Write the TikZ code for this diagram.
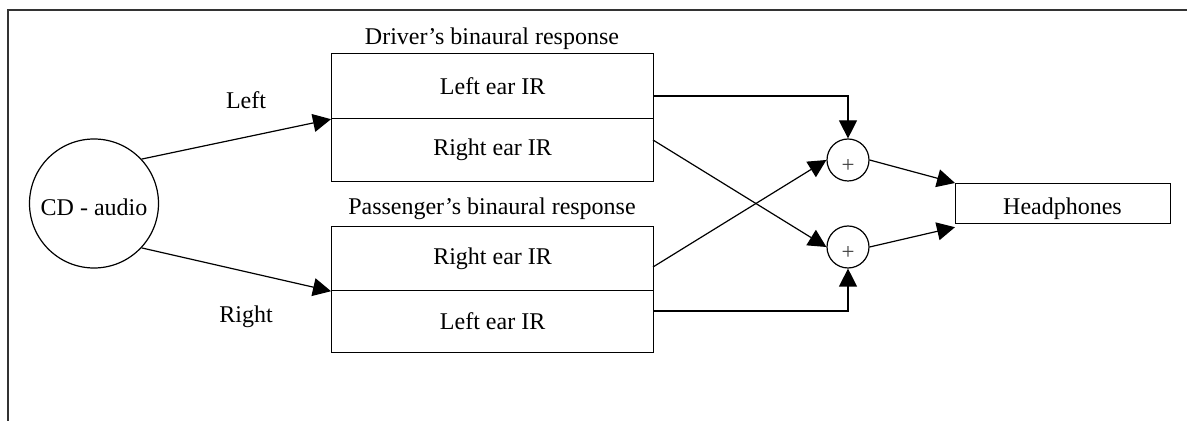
\documentclass[tikz,border=0pt]{standalone}
\usepackage{fontspec}
\setmainfont{Liberation Serif}
\usetikzlibrary{arrows.meta,positioning,calc}
\tikzset{
  cell/.style={draw, line width=0.6pt, rectangle, minimum width=161pt, anchor=north west, inner sep=0pt},
  sumnode/.style={draw, line width=0.6pt, circle, minimum size=21pt, inner sep=0pt},
  lbl/.style={inner sep=0pt, anchor=base},
  plus/.style={inner sep=0pt, anchor=base, font=\fontsize{11.5}{13}\selectfont, text=black!75},
  conn/.style={line width=0.6pt, -{Triangle[length=9pt,width=9pt]}},
  wire/.style={line width=0.6pt},
  frame/.style={line width=0.9pt, draw=black!80}
}
\begin{document}
\begin{tikzpicture}[x=0.5pt,y=-0.5pt,font=\fontsize{12}{14}\selectfont]
\useasboundingbox (0,0) rectangle (1187,421);
% frame
\draw[frame] (8,421) -- (8,10) -- (1187,10);
% source
\node[draw, line width=0.6pt, circle, minimum size=64.5pt, inner sep=0pt] (cd) at (94,203.5) {};
\node[lbl] (cdt) at (94,216) {CD - audio};
% driver
\node[cell, minimum height=32.5pt] (dL) at (331,53) {Left ear IR};
\node[cell, minimum height=31.5pt] (dR) at (331,118) {Right ear IR};
\node[lbl] (dT) at (492,45) {Driver’s binaural response};
% passenger
\node[cell, minimum height=32pt] (pR) at (331,226) {Right ear IR};
\node[cell, minimum height=31pt] (pL) at (331,290) {Left ear IR};
\node[lbl] (pT) at (492,215) {Passenger’s binaural response};
% labels
\node[lbl] (lL) at (246,109) {Left};
\node[lbl] (lR) at (246,323) {Right};
% sums
\node[sumnode] (s1) at (848,160) {};
\node[plus] (s1t) at (848,173) {+};
\node[sumnode] (s2) at (848,247) {};
\node[plus] (s2t) at (848,260) {+};
% headphones
\node[draw, line width=0.6pt, rectangle, minimum width=107.5pt, minimum height=20pt, anchor=north west, inner sep=0pt] (hp) at (955,183) {};
\node[lbl] (hpt) at (1062.5,215) {Headphones};
% out coordinates
\coordinate (dLo) at (653,96);
\coordinate (dRo) at (653,140);
\coordinate (pRo) at (653,267);
\coordinate (pLo) at (653,311);
% connectors
\draw[conn] (cd.43) -- (dL.south west);
\draw[conn] (cd.-43) -- (pR.south west);
\draw[conn] (dLo) -| (s1.north);
\draw[conn] (dRo) -- (s2.west);
\draw[conn] (pRo) -- (s1.west);
\draw[conn] (pLo) -| (s2.south);
\draw[conn] (s1.east) -- (hp.north west);
\draw[conn] (s2.east) -- ($(hp.south west)+(0,3)$);
\end{tikzpicture}
\end{document}
